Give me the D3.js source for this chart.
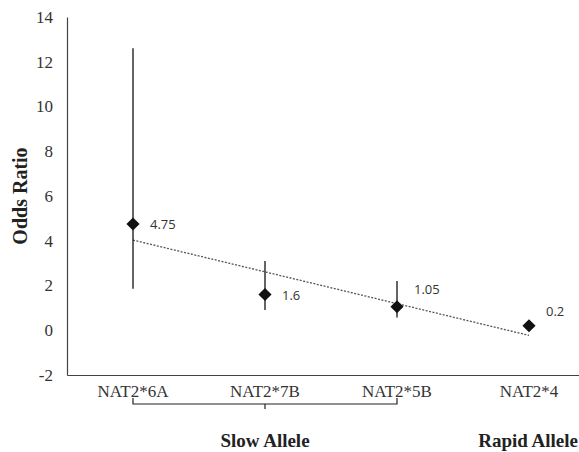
<!DOCTYPE html>
<html>
<head>
<meta charset="utf-8">
<script src="https://cdn.jsdelivr.net/npm/d3@7"></script>
</head>
<body style="margin:0">
<svg id="chart" width="579" height="452" style="font-family:'Liberation Serif'"></svg>
<script>
// chart data
const alleles = ["NAT2*6A", "NAT2*7B", "NAT2*5B", "NAT2*4"];
const oddsRatio = [4.75, 1.6, 1.05, 0.2];
const ciLow = [1.85, 0.9, 0.57, null];
const ciHigh = [12.6, 3.1, 2.2, null];
const valueLabels = ["4.75", "1.6", "1.05", "0.2"];
const yTicks = [-2, 0, 2, 4, 6, 8, 10, 12, 14];
const groups = [
  { name: "Slow Allele", from: "NAT2*6A", to: "NAT2*5B", bracket: true },
  { name: "Rapid Allele", from: "NAT2*4", to: "NAT2*4", bracket: false }
];

const width = 579, height = 452;
const margin = { top: 17, left: 67, bottom: 77 };

const svg = d3.select("#chart");

let xScale = d3.scaleBand()
  .domain(alleles)
  .range([margin.left, margin.left + 132 * alleles.length])
  .padding(0);

let yScale = d3.scaleLinear()
  .domain([-2, 14])
  .range([height - margin.bottom, margin.top]);

const cx = (d) => xScale(d) + xScale.bandwidth() / 2;

// axes
let yAxis = d3.axisLeft(yScale).tickValues(yTicks).tickFormat(d => String(d)).tickSize(0).tickPadding(14);
let yG = svg.append("g")
  .attr("transform", `translate(${margin.left},0)`)
  .call(yAxis);
yG.select(".domain").attr("stroke", "#444").attr("stroke-width", 1.2);
yG.selectAll("text")
  .style("font-family", "'Liberation Serif'")
  .style("font-size", "17px")
  .attr("fill", "#333");

let xAxis = d3.axisBottom(xScale).tickSize(0).tickPadding(10);
let xG = svg.append("g")
  .attr("transform", `translate(0,${yScale(-2)})`)
  .call(xAxis);
xG.select(".domain").attr("stroke", "#444").attr("stroke-width", 1.2);
xG.selectAll("text")
  .style("font-family", "'Liberation Serif'")
  .style("font-size", "17px")
  .attr("fill", "#333");

// y axis title
svg.append("text")
  .attr("transform", "rotate(-90)")
  .attr("x", -yScale(6))
  .attr("y", 27)
  .attr("text-anchor", "middle")
  .style("font-family", "'Liberation Serif'")
  .style("font-size", "20px")
  .style("font-weight", "bold")
  .attr("fill", "#222")
  .text("Odds Ratio");

// linear trendline (least squares over category index)
let xs = alleles.map((d, i) => i + 1);
let mx = d3.mean(xs), my = d3.mean(oddsRatio);
let slope = d3.sum(xs, (x, i) => (x - mx) * (oddsRatio[i] - my)) / d3.sum(xs, x => (x - mx) * (x - mx));
let intercept = my - slope * mx;
const trend = [alleles[0], alleles[alleles.length - 1]].map(a => ({
  a: a, v: intercept + slope * (alleles.indexOf(a) + 1)
}));
svg.append("path")
  .attr("d", d3.line().x(d => cx(d.a)).y(d => yScale(d.v))(trend))
  .attr("fill", "none")
  .attr("stroke", "#555")
  .attr("stroke-width", 1.3)
  .attr("stroke-dasharray", "2,1.5");

// error bars
svg.selectAll(".err")
  .data(alleles.filter((d, i) => ciLow[i] != null))
  .enter()
  .append("line")
  .attr("x1", d => cx(d))
  .attr("x2", d => cx(d))
  .attr("y1", d => yScale(ciLow[alleles.indexOf(d)]))
  .attr("y2", d => yScale(ciHigh[alleles.indexOf(d)]))
  .attr("stroke", "#111")
  .attr("stroke-width", 1.3);

// diamonds
svg.selectAll(".pt")
  .data(alleles)
  .enter()
  .append("path")
  .attr("d", d3.symbol(d3.symbolDiamond2, 110))
  .attr("transform", (d, i) => `translate(${cx(d)},${yScale(oddsRatio[i])})`)
  .attr("fill", "#111");

// value labels
const labelOffset = [[17, 0], [17, 1], [17, -17], [17, -14]];
svg.selectAll(".vl")
  .data(alleles)
  .enter()
  .append("text")
  .attr("x", (d, i) => cx(d) + labelOffset[i][0])
  .attr("y", (d, i) => yScale(oddsRatio[i]) + labelOffset[i][1])
  .attr("dy", "0.35em")
  .style("font-family", "'Open Sans'")
  .style("font-size", "13px")
  .attr("fill", "#333")
  .text((d, i) => valueLabels[i]);

// group brackets and labels
groups.forEach(g => {
  let x0 = cx(g.from), x1 = cx(g.to), mid = (x0 + x1) / 2;
  let by = 404;
  if (g.bracket) {
    svg.append("path")
      .attr("d", `M${x0},${by - 6}V${by}H${x1}V${by - 6}M${mid},${by}V${by + 5}`)
      .attr("fill", "none")
      .attr("stroke", "#222")
      .attr("stroke-width", 1.2);
  }
  svg.append("text")
    .attr("x", g.bracket ? mid : width - 1)
    .attr("y", 447)
    .attr("text-anchor", g.bracket ? "middle" : "end")
    .style("font-family", "'Liberation Serif'")
    .style("font-size", "19px")
    .style("font-weight", "bold")
    .attr("fill", "#222")
    .text(g.name);
});
</script>
</body>
</html>
